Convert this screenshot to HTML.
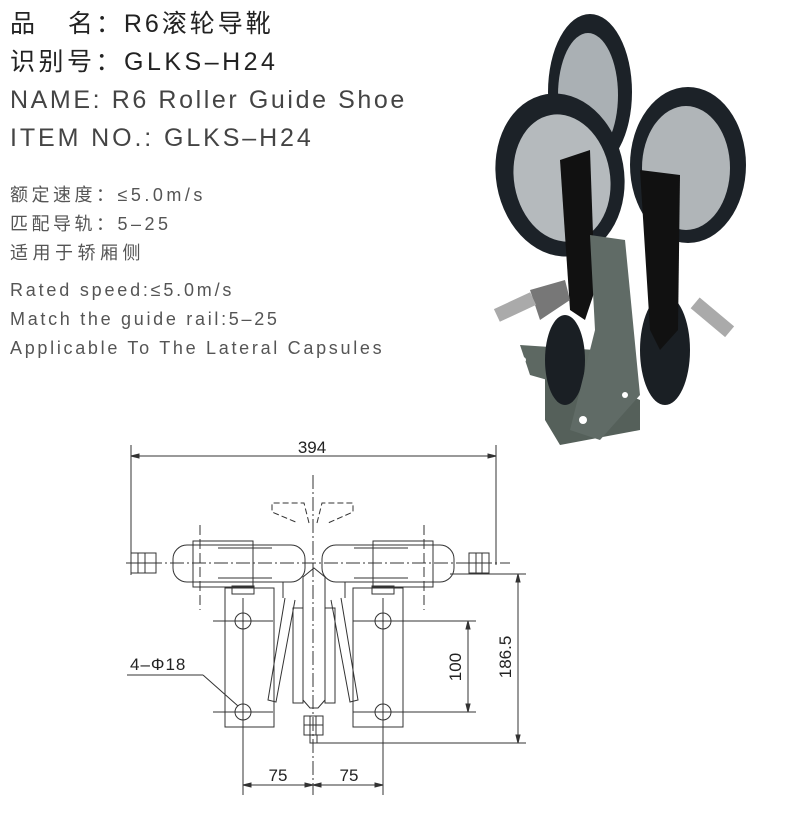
<!DOCTYPE html>
<html><head><meta charset="utf-8"><style>
body{margin:0;background:#fff;width:787px;height:827px;overflow:hidden;position:relative;font-family:"Liberation Sans","Noto Sans CJK SC",sans-serif;}
.t{position:absolute;white-space:nowrap;color:#333;}
</style></head><body>
<div class="t" style="left:10px;top:4px;font-size:25px;color:#222;letter-spacing:3px">品&nbsp;&nbsp;&nbsp;名：R6滚轮导靴</div>
<div class="t" style="left:10px;top:42px;font-size:25px;color:#222;letter-spacing:3.5px">识别号：GLKS–H24</div>
<div class="t" style="left:10px;top:86px;font-size:25px;color:#444;letter-spacing:2.6px">NAME: R6 Roller Guide Shoe</div>
<div class="t" style="left:10px;top:124px;font-size:25px;color:#444;letter-spacing:2.9px">ITEM NO.: GLKS–H24</div>
<div class="t" style="left:10px;top:181px;font-size:18px;color:#555;letter-spacing:3.5px">额定速度：≤5.0m/s</div>
<div class="t" style="left:10px;top:210px;font-size:18px;color:#555;letter-spacing:3.5px">匹配导轨：5–25</div>
<div class="t" style="left:10px;top:239px;font-size:18px;color:#555;letter-spacing:4.5px">适用于轿厢侧</div>
<div class="t" style="left:10px;top:280px;font-size:18px;color:#555;letter-spacing:2.8px">Rated speed:≤5.0m/s</div>
<div class="t" style="left:10px;top:309px;font-size:18px;color:#555;letter-spacing:2.7px">Match the guide rail:5–25</div>
<div class="t" style="left:10px;top:338px;font-size:18px;color:#555;letter-spacing:2.7px">Applicable To The Lateral Capsules</div>

<svg style="position:absolute;left:0;top:0" width="787" height="827">
<!-- photo -->
<g>
<ellipse cx="590" cy="92" rx="42" ry="78" fill="#1c2228"/>
<ellipse cx="588" cy="95" rx="30" ry="62" fill="#aab0b4"/>
<polygon points="545,360 640,400 640,430 560,445 545,420" fill="#55605a"/>
<ellipse cx="560" cy="175" rx="64" ry="82" fill="#1c2228" transform="rotate(-10 560 175)"/>
<ellipse cx="562" cy="178" rx="48" ry="64" fill="#b5babd" transform="rotate(-10 562 178)"/>
<ellipse cx="688" cy="165" rx="58" ry="78" fill="#1c2228"/>
<ellipse cx="686" cy="168" rx="44" ry="62" fill="#b0b5b8"/>
<polygon points="520,345 595,350 600,395 530,375" fill="#5d6862"/>
<ellipse cx="565" cy="360" rx="20" ry="45" fill="#1a1f24"/>
<ellipse cx="665" cy="350" rx="25" ry="55" fill="#1a1f24"/>
<polygon points="560,160 590,150 595,290 585,320 570,310" fill="#111"/>
<polygon points="640,170 680,175 678,330 660,350 650,330" fill="#111"/>
<polygon points="590,235 625,240 640,395 600,440 570,430 595,330" fill="#606b66"/>
<polygon points="530,290 565,280 570,300 540,320" fill="#777"/>
<rect x="495" y="300" width="40" height="14" fill="#aaa" transform="rotate(-25 515 307)"/>
<rect x="690" y="310" width="45" height="14" fill="#aaa" transform="rotate(40 712 317)"/>
<circle cx="583" cy="420" r="4" fill="#fff"/><circle cx="523" cy="360" r="3" fill="#fff"/><circle cx="625" cy="395" r="3" fill="#fff"/>
</g>
<!-- drawing -->
<g stroke="#333" stroke-width="1" fill="none">
<line x1="131" y1="445" x2="131" y2="575"/><line x1="496" y1="445" x2="496" y2="565"/>
<line x1="131" y1="456" x2="496" y2="456"/>
<polygon points="131,456 139,454 139,458" fill="#333"/><polygon points="496,456 488,454 488,458" fill="#333"/>
<line x1="313" y1="475" x2="313" y2="795" stroke-dasharray="14,3,2,3"/>
<line x1="126" y1="563" x2="510" y2="563" stroke-dasharray="14,3,2,3"/>
<path d="M309,523 L304,503 L272,503 L272,512 L298,523" stroke-dasharray="6,3"/>
<path d="M317,523 L322,503 L353,503 L353,512 L328,523" stroke-dasharray="6,3"/>
<rect x="173" y="545" width="132" height="37" rx="14"/>
<rect x="322" y="545" width="132" height="37" rx="14"/>
<rect x="193" y="541" width="60" height="46"/>
<rect x="373" y="541" width="60" height="46"/>
<line x1="218" y1="548" x2="272" y2="548"/><line x1="218" y1="578" x2="272" y2="578"/>
<line x1="354" y1="548" x2="408" y2="548"/><line x1="354" y1="578" x2="408" y2="578"/>
<line x1="200" y1="525" x2="200" y2="610" stroke-dasharray="10,4"/>
<line x1="424" y1="525" x2="424" y2="610" stroke-dasharray="10,4"/>
<rect x="131" y="553" width="25" height="20"/><line x1="138" y1="553" x2="138" y2="573"/><line x1="145" y1="553" x2="145" y2="573"/><line x1="131" y1="563" x2="156" y2="563"/>
<rect x="469" y="553" width="20" height="20"/><line x1="476" y1="553" x2="476" y2="573"/><line x1="482" y1="553" x2="482" y2="573"/><line x1="469" y1="563" x2="489" y2="563"/>
<rect x="225" y="588" width="49" height="139"/><rect x="353" y="588" width="50" height="139"/>
<rect x="232" y="586" width="22" height="8"/><rect x="372" y="586" width="22" height="8"/>
<circle cx="243" cy="621" r="8"/><circle cx="243" cy="712" r="8"/><circle cx="383" cy="621" r="8"/><circle cx="383" cy="712" r="8"/>
<line x1="213" y1="621" x2="273" y2="621"/><line x1="353" y1="621" x2="476" y2="621"/>
<line x1="213" y1="712" x2="273" y2="712"/><line x1="353" y1="712" x2="476" y2="712"/>
<line x1="243" y1="598" x2="243" y2="795"/><line x1="383" y1="598" x2="383" y2="795"/>
<path d="M303,577 L303,700 L310,708 L318,708 L325,700 L325,577 L314,568 Z"/>
<rect x="293" y="608" width="10" height="95"/><rect x="325" y="608" width="10" height="95"/>
<path d="M285,598 L268,700 L276,702 L295,600"/><path d="M341,598 L358,700 L350,702 L331,600"/>
<line x1="283" y1="582" x2="283" y2="598"/><line x1="345" y1="582" x2="345" y2="598"/>
<rect x="304" y="716" width="19" height="19"/><line x1="310" y1="716" x2="310" y2="735"/><line x1="316" y1="716" x2="316" y2="735"/><line x1="304" y1="725" x2="323" y2="725"/>
<rect x="310" y="735" width="7" height="8"/>
<line x1="468" y1="621" x2="468" y2="712"/>
<polygon points="468,621 466,629 470,629" fill="#333"/><polygon points="468,712 466,704 470,704" fill="#333"/>
<line x1="450" y1="574" x2="526" y2="574"/><line x1="317" y1="743" x2="526" y2="743"/>
<line x1="518" y1="574" x2="518" y2="743"/>
<polygon points="518,574 516,582 520,582" fill="#333"/><polygon points="518,743 516,735 520,735" fill="#333"/>
<line x1="243" y1="785" x2="383" y2="785"/>
<polygon points="243,785 251,783 251,787" fill="#333"/><polygon points="383,785 375,783 375,787" fill="#333"/>
<polygon points="313,785 305,783 305,787" fill="#333"/><polygon points="313,785 321,783 321,787" fill="#333"/>
<line x1="127" y1="675" x2="203" y2="675"/><line x1="203" y1="675" x2="238" y2="706"/>
</g>
<g font-family="Liberation Sans, sans-serif" font-size="17" fill="#222">
<text x="312" y="453" text-anchor="middle">394</text>
<text x="278" y="781" text-anchor="middle">75</text>
<text x="349" y="781" text-anchor="middle">75</text>
<text x="130" y="670" letter-spacing="1">4–Φ18</text>
<text transform="translate(461,667) rotate(-90)" text-anchor="middle">100</text>
<text transform="translate(511,657) rotate(-90)" text-anchor="middle">186.5</text>
</g>
</svg>
</body></html>
